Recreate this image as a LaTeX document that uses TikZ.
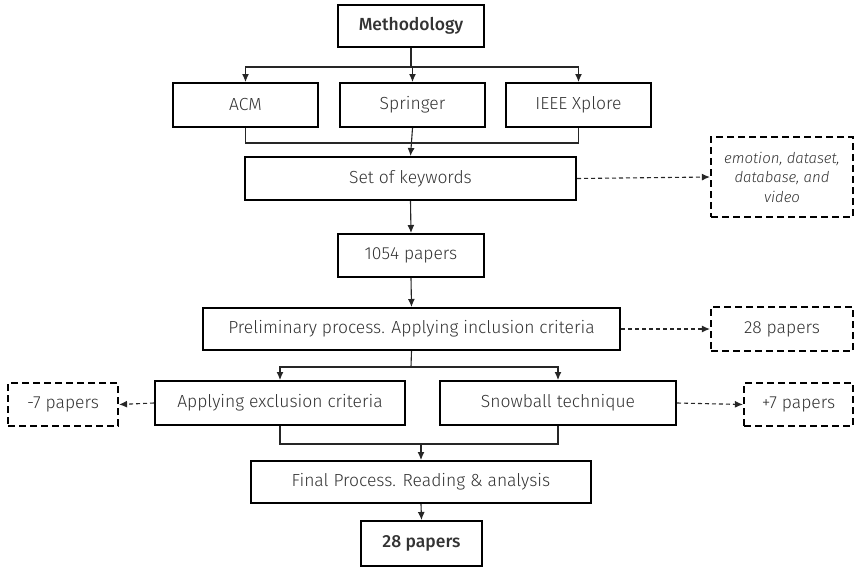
\documentclass[tikz,border=0pt]{standalone}
\usepackage{fontspec}
\setmainfont{Fira Sans Light}[BoldFont={Fira Sans Medium},ItalicFont={Fira Sans Light Italic}]
\usetikzlibrary{arrows.meta}
\begin{document}
\begin{tikzpicture}[x=1pt,y=-1pt,
  every node/.style={font=\fontsize{17.5}{20}\selectfont, text=black!80},
  box/.style={draw=black, line width=2pt, rectangle, inner sep=0pt},
  dbox/.style={draw=black, line width=2.2pt, dash pattern=on 7pt off 4pt, rectangle, inner sep=0pt},
  link/.style={line width=1.1pt, draw=black!85},
  arr/.style={link, -{Latex[length=8pt,width=7pt]}},
  darr/.style={line width=1.1pt, draw=black!85, dash pattern=on 4pt off 3pt, -{Latex[length=8pt,width=7pt]}}]
\useasboundingbox (0,0) rectangle (855,573);

% main column
\node[box, minimum width=146pt, minimum height=42pt, font=\fontsize{17.5}{20}\selectfont\bfseries] (meth) at (411,26) {Methodology};
\node[box, minimum width=145pt, minimum height=44pt] (acm) at (245.5,105) {ACM};
\node[box, minimum width=145pt, minimum height=44pt] (spr) at (412.5,105) {Springer};
\node[box, minimum width=145pt, minimum height=44pt] (ieee) at (578.5,105) {IEEE Xplore};
\node[box, minimum width=331pt, minimum height=43pt] (kw) at (410.5,178.5) {Set of keywords};
\node[box, minimum width=146pt, minimum height=43pt] (n1054) at (411,255.5) {1054 papers};
\node[box, minimum width=417pt, minimum height=42pt] (prel) at (411.5,329) {Preliminary process. Applying inclusion criteria};
\node[box, minimum width=250pt, minimum height=44pt] (excl) at (280,403) {Applying exclusion criteria};
\node[box, minimum width=236pt, minimum height=44pt] (snow) at (558,403) {Snowball technique};
\node[box, minimum width=340pt, minimum height=42pt] (final) at (421,482) {Final Process. Reading \& analysis};
\node[box, minimum width=121pt, minimum height=45pt, font=\fontsize{17.5}{20}\selectfont\bfseries] (res) at (421.5,543.5) {28 papers};

% side notes
\node[dbox, minimum width=142pt, minimum height=80pt, align=center,
  font=\fontsize{15}{19.5}\selectfont\itshape] (kwlist) at (782,177) {emotion, dataset,\\database, and\\video};
\node[dbox, minimum width=142pt, minimum height=44pt] (p28) at (782,329) {28 papers};
\node[dbox, minimum width=110pt, minimum height=43pt] (minus) at (63,404.5) {-7 papers};
\node[dbox, minimum width=109pt, minimum height=43pt] (plus) at (798.5,404.5) {+7 papers};

% junction points
\coordinate (split1) at (411,67);
\coordinate (join1) at (412,143);
\coordinate (split2) at (411,367);
\coordinate (join2) at (421,444);

% connectors
\draw[link] (meth.south) -- (split1);
\draw[arr] (split1) -| (acm.north);
\draw[arr] (split1) -| (spr.north);
\draw[arr] (split1) -| (ieee.north);
\draw[link] (acm.south) |- (join1);
\draw[link] (ieee.south) |- (join1);
\draw[arr] (spr.south) -- (kw.north);
\draw[darr] (kw.east) -- (kwlist.west);
\draw[arr] (kw.south) -- (n1054.north);
\draw[arr] (n1054.south) -- (prel.north);
\draw[darr] (prel.east) -- (p28.west);
\draw[link] (prel.south) -- (split2);
\draw[arr] (split2) -| (excl.north);
\draw[arr] (split2) -| (snow.north);
\draw[darr] (excl.west) -- (minus.east);
\draw[darr] (snow.east) -- (plus.west);
\draw[link] (excl.south) |- (join2);
\draw[link] (snow.south) |- (join2);
\draw[arr] (join2) -- (final.north);
\draw[arr] (final.south) -- (res.north);
\end{tikzpicture}
\end{document}
